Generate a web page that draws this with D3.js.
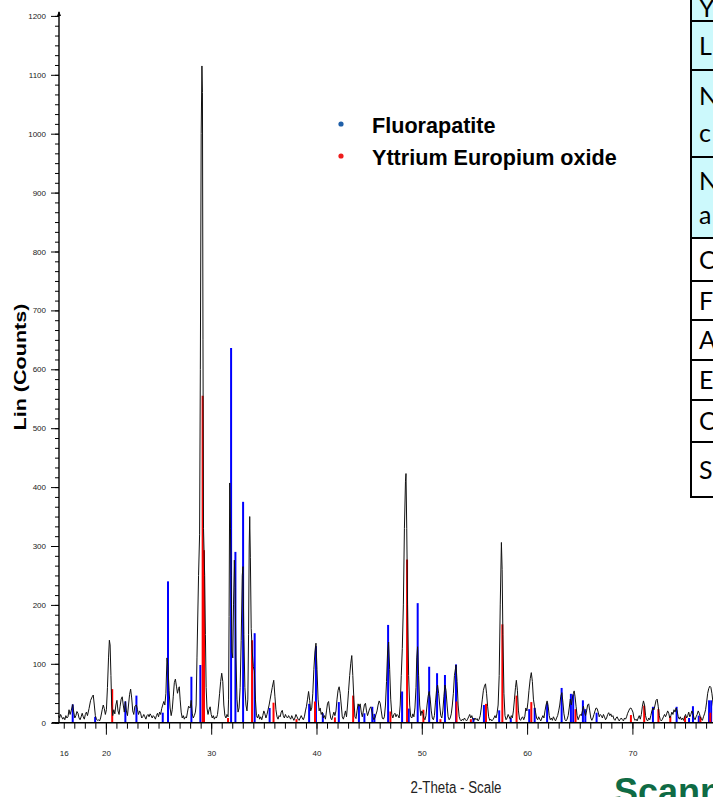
<!DOCTYPE html>
<html><head><meta charset="utf-8">
<script src="https://cdn.jsdelivr.net/npm/d3@7"></script>
<style>html,body{margin:0;padding:0;background:#fff;overflow:hidden}</style>
</head><body>
<svg id="c" width="713" height="797" xmlns="http://www.w3.org/2000/svg"></svg>
<script>
// ---- measured XRD trace: [2-theta, counts] ----
const trace = [
[15.5,12],[15.6,8],[15.7,14],[15.8,10],[15.9,6],[16.0,9],[16.1,5],[16.2,12],[16.3,8],[16.4,10],[16.5,22],[16.6,14],[16.7,20],[16.85,31],[16.95,18],
[17.05,8],[17.15,12],[17.25,19],[17.35,16],[17.45,8],[17.55,5],[17.65,10],[17.75,16],[17.85,10],[17.95,6],[18.05,14],[18.15,18],[18.25,12],[18.4,24],[18.55,38],
[18.7,44],[18.8,47],[18.9,30],[19.0,12],[19.1,6],[19.2,4],[19.3,5],[19.4,3],[19.5,8],[19.65,22],[19.75,30],[19.85,24],[19.95,14],[20.05,22],[20.15,60],
[20.25,110],[20.33,140],[20.4,132],[20.48,80],[20.55,30],[20.65,12],[20.75,22],[20.85,15],[20.95,30],[21.05,38],[21.15,20],[21.25,14],[21.35,28],[21.45,40],[21.55,44],
[21.65,30],[21.75,18],[21.85,36],[21.95,20],[22.05,12],[22.15,30],[22.25,48],[22.35,57],[22.45,42],[22.55,20],[22.65,14],[22.75,28],[22.9,30],[23.0,22],[23.1,14],
[23.2,20],[23.3,16],[23.4,8],[23.5,10],[23.6,14],[23.7,10],[23.8,6],[23.9,12],[24.0,14],[24.1,10],[24.2,15],[24.3,12],[24.4,8],[24.5,12],[24.6,10],
[24.7,6],[24.8,12],[24.9,16],[25.0,10],[25.1,18],[25.2,14],[25.3,24],[25.4,30],[25.5,36],[25.6,30],[25.7,50],[25.8,110],[25.9,95],[26.0,55],[26.1,25],
[26.2,12],[26.3,22],[26.4,45],[26.5,68],[26.6,74],[26.7,62],[26.8,50],[26.9,58],[26.97,61],[27.05,40],[27.15,18],[27.25,8],[27.35,12],[27.45,6],[27.55,10],
[27.65,8],[27.75,18],[27.85,28],[28.0,25],[28.1,38],[28.2,15],[28.3,8],[28.4,12],[28.5,18],[28.57,30],[28.65,110],[28.8,250],[28.9,320],[28.97,600],[29.05,1000],
[29.12,1115],[29.17,1070],[29.22,650],[29.27,330],[29.32,293],[29.38,250],[29.45,150],[29.52,60],[29.6,25],[29.7,14],[29.8,22],[29.9,27],[30.0,14],[30.1,8],[30.2,12],
[30.3,6],[30.4,10],[30.5,8],[30.6,14],[30.7,30],[30.8,50],[30.9,70],[31.0,84],[31.1,70],[31.2,30],[31.3,12],[31.4,8],[31.5,14],[31.6,10],[31.65,40],
[31.7,180],[31.76,407],[31.83,330],[31.9,250],[31.97,120],[32.05,110],[32.12,200],[32.2,276],[32.27,230],[32.35,110],[32.45,40],[32.55,18],[32.65,25],[32.75,60],[32.85,140],
[32.95,250],[33.02,265],[33.1,150],[33.2,60],[33.3,30],[33.4,20],[33.48,40],[33.55,150],[33.61,300],[33.66,350],[33.72,280],[33.8,160],[33.9,120],[34.0,95],[34.1,88],
[34.2,40],[34.3,12],[34.4,8],[34.5,14],[34.6,6],[34.7,10],[34.8,5],[34.9,12],[35.0,20],[35.1,15],[35.2,8],[35.3,14],[35.4,22],[35.5,30],[35.6,40],
[35.7,50],[35.8,60],[35.94,72],[36.05,45],[36.15,22],[36.25,10],[36.35,6],[36.45,12],[36.55,10],[36.65,18],[36.75,21],[36.85,12],[36.95,8],[37.05,14],[37.15,10],
[37.25,8],[37.35,12],[37.45,9],[37.55,6],[37.65,12],[37.75,8],[37.85,4],[37.95,8],[38.05,14],[38.15,10],[38.25,6],[38.35,4],[38.45,8],[38.55,12],[38.65,8],
[38.75,5],[38.85,10],[38.95,20],[39.05,28],[39.15,40],[39.25,53],[39.35,38],[39.45,20],[39.55,25],[39.65,50],[39.75,90],[39.85,120],[39.95,135],[40.05,90],[40.15,40],
[40.25,20],[40.35,25],[40.45,14],[40.55,18],[40.65,8],[40.75,12],[40.85,6],[40.95,20],[41.05,33],[41.15,36],[41.25,20],[41.35,8],[41.45,5],[41.55,12],[41.65,18],
[41.75,12],[41.85,20],[41.95,40],[42.05,55],[42.15,61],[42.25,50],[42.35,30],[42.45,10],[42.55,6],[42.65,12],[42.75,20],[42.85,10],[42.95,30],[43.05,55],[43.15,80],
[43.25,100],[43.35,114],[43.45,80],[43.55,40],[43.65,10],[43.75,7],[43.85,20],[43.95,32],[44.05,28],[44.15,32],[44.25,18],[44.35,10],[44.45,20],[44.55,30],[44.65,33],
[44.75,20],[44.85,12],[44.95,18],[45.05,24],[45.15,27],[45.25,20],[45.35,10],[45.45,5],[45.55,8],[45.65,14],[45.75,20],[45.85,30],[45.95,37],[46.05,33],[46.15,20],
[46.25,8],[46.35,6],[46.45,10],[46.55,30],[46.65,70],[46.75,120],[46.85,137],[46.95,90],[47.05,40],[47.15,14],[47.25,8],[47.35,14],[47.45,16],[47.55,10],[47.65,14],
[47.75,12],[47.85,8],[47.95,30],[48.05,80],[48.15,126],[48.25,200],[48.35,330],[48.45,410],[48.5,423],[48.57,330],[48.65,200],[48.75,80],[48.85,30],[48.95,10],[49.05,8],
[49.15,15],[49.25,10],[49.35,25],[49.45,60],[49.52,110],[49.6,129],[49.7,80],[49.8,30],[49.9,12],[50.0,20],[50.1,16],[50.2,8],[50.3,5],[50.4,12],[50.5,30],
[50.6,45],[50.7,53],[50.8,40],[50.9,20],[51.0,8],[51.1,5],[51.2,12],[51.3,35],[51.4,55],[51.5,64],[51.6,50],[51.7,30],[51.8,12],[51.9,8],[52.0,20],
[52.1,45],[52.2,64],[52.3,55],[52.4,30],[52.5,10],[52.6,5],[52.7,8],[52.8,15],[52.9,30],[53.0,50],[53.1,80],[53.25,98],[53.35,70],[53.45,30],[53.55,10],
[53.65,5],[53.75,3],[53.85,6],[53.95,4],[54.05,8],[54.15,5],[54.25,3],[54.35,6],[54.45,10],[54.55,14],[54.65,8],[54.75,12],[54.85,6],[54.95,4],[55.05,8],
[55.15,5],[55.25,7],[55.35,3],[55.45,6],[55.55,12],[55.65,25],[55.75,40],[55.85,55],[55.95,62],[56.05,66],[56.15,50],[56.25,28],[56.35,10],[56.45,4],[56.55,6],
[56.65,3],[56.75,5],[56.85,8],[56.95,12],[57.05,8],[57.15,16],[57.25,30],[57.35,80],[57.45,200],[57.56,306],[57.63,260],[57.7,150],[57.8,50],[57.9,12],[58.0,5],
[58.1,8],[58.2,14],[58.3,10],[58.4,6],[58.5,12],[58.6,8],[58.7,20],[58.8,40],[58.9,60],[58.98,72],[59.08,55],[59.18,20],[59.28,6],[59.38,4],[59.48,8],
[59.58,10],[59.68,5],[59.78,10],[59.88,25],[59.98,20],[60.08,35],[60.18,55],[60.3,75],[60.4,85],[60.5,70],[60.6,40],[60.7,28],[60.8,18],[60.9,8],[61.0,5],
[61.1,10],[61.2,6],[61.3,3],[61.4,8],[61.5,12],[61.6,8],[61.7,20],[61.8,30],[61.9,37],[62.0,28],[62.1,12],[62.2,5],[62.3,8],[62.4,4],[62.5,10],
[62.6,6],[62.7,3],[62.8,8],[62.9,12],[63.0,20],[63.1,30],[63.2,45],[63.3,51],[63.4,35],[63.5,15],[63.6,5],[63.7,3],[63.8,6],[63.9,12],[64.0,25],
[64.1,40],[64.2,30],[64.3,42],[64.4,50],[64.47,54],[64.55,45],[64.65,28],[64.75,12],[64.85,5],[64.95,10],[65.05,14],[65.15,12],[65.25,20],[65.35,28],[65.45,18],
[65.55,12],[65.65,20],[65.75,30],[65.85,32],[65.95,20],[66.05,8],[66.15,4],[66.25,8],[66.35,14],[66.45,20],[66.55,25],[66.65,24],[66.75,18],[66.85,10],[66.95,14],
[67.05,12],[67.15,8],[67.25,14],[67.35,10],[67.45,5],[67.55,8],[67.65,14],[67.75,17],[67.85,12],[67.95,15],[68.05,10],[68.15,12],[68.25,6],[68.35,4],[68.45,8],
[68.55,10],[68.65,6],[68.75,3],[68.85,6],[68.95,8],[69.05,5],[69.15,3],[69.25,8],[69.35,6],[69.45,10],[69.55,16],[69.65,20],[69.75,24],[69.86,25],[69.95,22],
[70.05,18],[70.15,8],[70.25,4],[70.35,6],[70.45,3],[70.55,8],[70.65,12],[70.75,6],[70.85,14],[70.95,28],[71.05,37],[71.15,30],[71.25,12],[71.35,5],[71.45,3],
[71.55,8],[71.65,5],[71.75,12],[71.85,20],[71.95,25],[72.05,22],[72.15,30],[72.25,38],[72.35,40],[72.45,28],[72.55,12],[72.65,5],[72.75,3],[72.85,6],[72.95,10],
[73.05,14],[73.15,10],[73.25,15],[73.35,20],[73.45,16],[73.55,8],[73.65,12],[73.75,18],[73.85,14],[73.95,22],[74.05,18],[74.15,25],[74.25,20],[74.35,10],[74.45,6],
[74.55,10],[74.65,5],[74.75,8],[74.85,4],[74.95,10],[75.05,14],[75.15,8],[75.25,12],[75.35,18],[75.45,10],[75.55,14],[75.65,20],[75.75,16],[75.85,8],[75.95,5],
[76.05,10],[76.15,14],[76.25,20],[76.35,16],[76.45,10],[76.55,6],[76.65,4],[76.75,10],[76.85,15],[76.95,22],[77.05,35],[77.15,50],[77.25,58],[77.35,62],[77.45,60],
[77.55,50],[77.65,35],[77.75,20],[77.85,12],[78.0,8],[78.2,14],[78.4,10],[78.6,6],[78.8,12],[79.0,8],[79.3,10],[79.6,6],[80.0,8]
];

// ---- reference pattern sticks: [2-theta, counts] ----
const fluorapatite = [
[16.85,31],[18.98,10],[21.85,36],[22.9,46],[25.4,17],[25.9,240],[28.12,78],[28.97,98],[31.89,636],[32.3,290],
[33.03,375],[34.13,152],[35.55,25],[39.3,32],[39.95,130],[40.6,16],[42.12,35],[44.03,30],[44.55,16],[45.3,27],
[45.5,15],[46.8,166],[48.13,53],[48.76,24],[49.61,203],[50.7,95],[51.45,84],[52.2,81],[53.25,99],[54.9,8],
[55.9,30],[57.35,21],[58.45,8],[60.2,23],[60.72,25],[61.9,34],[63.28,59],[64.16,49],[64.38,48],[65.3,38],
[65.53,23],[66.6,17],[71.95,27],[74.2,27],[75.38,8],[75.75,28],[76.3,12],[77.28,38],[77.48,38]
];
const yttriumEuropiumOxide = [
[20.6,57],[29.19,555],[29.32,293],[31.6,8],[33.88,140],[35.92,34],[38.1,6],[39.86,36],[41.75,9],[43.48,46],
[47.02,19],[48.6,277],[50.15,22],[51.77,6],[53.3,36],[54.66,6],[56.1,32],[57.65,167],[59.0,46],[60.4,35],
[64.6,23],[69.86,13],[71.12,29],[72.47,23],[73.6,11],[75.0,11],[76.46,10],[77.4,17]
];

const xTickLabels = [16,20,30,40,50,60,70];
const yTickLabels = [0,100,200,300,400,500,600,700,800,900,1000,1100,1200];
const legendNames = ["Fluorapatite","Yttrium Europium oxide"];
const legendColors = ["#1f5fa8","#ee1c1c"];
const tableRows = [["Y"],["L"],["N","c"],["N","a"],["C"],["F"],["A"],["E"],["C"],["S"]];
const tableBorders = [-40,21,70,157,238,281,320,360,400,442,497];
const tableShaded = [true,true,true,true,false,false,false,false,false,false];

const svg = d3.select("#c");
const x = d3.scaleLinear().domain([15.5, 80]).range([58.5, 737.7]);
const y = d3.scaleLinear().domain([0, 1200]).range([722.7, 15.9]);

// sticks (under trace)
function sticks(data, color){
  svg.append("g").selectAll("line").data(data).join("line")
    .attr("x1", d=>x(d[0])).attr("x2", d=>x(d[0]))
    .attr("y1", y(0)).attr("y2", d=>y(d[1]))
    .attr("stroke", color).attr("stroke-width", 2);
}
sticks(fluorapatite, "#0000ff");
sticks(yttriumEuropiumOxide, "#ff0000");

// trace
svg.append("path").datum(trace)
  .attr("d", d3.line().x(d=>x(d[0])).y(d=>y(d[1])))
  .attr("fill","none").attr("stroke","#111").attr("stroke-width",1);

// X axis
const xa = svg.append("g").attr("transform",`translate(0,${y(0)})`);
xa.append("line").attr("x1",52).attr("x2",740).attr("y1",0).attr("y2",0).attr("stroke","#000").attr("stroke-width",1.4);
const xMinor = d3.axisBottom(x).tickValues(d3.range(16,80,1)).tickSize(6).tickFormat("");
const gxm = xa.append("g").call(xMinor); gxm.select(".domain").remove();
const xMajor = d3.axisBottom(x).tickValues(xTickLabels.filter(v=>v%10===0)).tickSize(12).tickFormat("");
const gxM = xa.append("g").call(xMajor); gxM.select(".domain").remove();
const xLab = d3.axisBottom(x).tickValues(xTickLabels).tickSize(0).tickPadding(28).tickFormat(d3.format("d"));
const gxl = xa.append("g").call(xLab); gxl.select(".domain").remove();
gxl.selectAll("text").attr("font-family","Liberation Sans, Arial, sans-serif").attr("font-size",8).attr("fill","#222");
xa.selectAll(".tick line").attr("stroke","#000");

// Y axis
const ya = svg.append("g").attr("transform",`translate(59,0)`);
ya.append("line").attr("x1",0).attr("x2",0).attr("y1",y(0)).attr("y2",y(1200)-4).attr("stroke","#000").attr("stroke-width",1.4);
ya.append("path").attr("d",`M0,${y(1200)-5} L-2,${y(1200)} L2,${y(1200)} Z`).attr("fill","#000");
const yMinorVals = d3.range(0,73).map(i=>i*100/6);
const gym = ya.append("g").call(d3.axisLeft(y).tickValues(yMinorVals).tickSize(4).tickFormat("")); gym.select(".domain").remove();
const gyM = ya.append("g").call(d3.axisLeft(y).tickValues(yTickLabels).tickSize(8).tickPadding(5).tickFormat(d3.format("d")));
gyM.select(".domain").remove();
gyM.selectAll("text").attr("font-family","Liberation Sans, Arial, sans-serif").attr("font-size",8).attr("fill","#222");
ya.selectAll(".tick line").attr("stroke","#000");

// axis titles
svg.append("text").attr("transform","translate(26,367) rotate(-90)")
  .attr("text-anchor","middle").attr("font-family","Liberation Sans, Arial, sans-serif")
  .attr("font-weight","bold").attr("font-size",17).attr("textLength",127).attr("lengthAdjust","spacingAndGlyphs")
  .text("Lin (Counts)");
svg.append("text").attr("x",456).attr("y",793).attr("text-anchor","middle")
  .attr("font-family","Liberation Sans, Arial, sans-serif").attr("font-size",16)
  .attr("textLength",91).attr("lengthAdjust","spacingAndGlyphs").attr("fill","#222")
  .text("2-Theta - Scale");

// legend
const lg = svg.append("g").selectAll("g").data(legendNames).join("g")
  .attr("transform",(d,i)=>`translate(0,${124+i*32})`);
lg.append("circle").attr("cx",341).attr("cy",0).attr("r",2.6).attr("fill",(d,i)=>legendColors[i]);
lg.append("text").attr("x",372).attr("y",8.5).attr("font-family","Liberation Sans, Arial, sans-serif")
  .attr("font-weight","bold").attr("font-size",21.6).attr("fill","#000").text(d=>d);

// partial table at right
const tg = svg.append("g");
tableRows.forEach((r,i)=>{
  const y0 = tableBorders[i], y1 = tableBorders[i+1];
  tg.append("rect").attr("x",691).attr("y",y0).attr("width",80).attr("height",y1-y0)
    .attr("fill", tableShaded[i] ? "#ccf9fc" : "#ffffff").attr("stroke","#000").attr("stroke-width",2);
  const h = y1-y0;
  r.forEach((t,j)=>{
    const cy = r.length===1 ? (i===0 ? y1-13 : (y0+y1)/2) : y0 + h*(j===0?0.3:0.72);
    tg.append("text").attr("x",699).attr("y",cy+9).attr("font-family","Lato, 'Open Sans', sans-serif")
      .attr("font-size",25).attr("fill","#000").text(t);
  });
});

// bottom-right heading (cut off)
svg.append("text").attr("x",614).attr("y",804).attr("font-family","Liberation Sans, Arial, sans-serif")
  .attr("font-weight","bold").attr("font-size",36).attr("fill","#0f6b45").text("Scanning");
</script>
</body></html>
